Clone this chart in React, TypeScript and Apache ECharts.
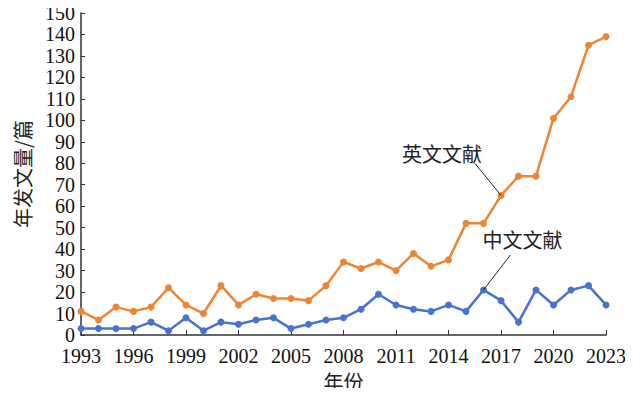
import React, { useEffect, useRef } from "react";
import * as echarts from "echarts";

const years: string[] = [
  "1993","1994","1995","1996","1997","1998","1999","2000","2001","2002",
  "2003","2004","2005","2006","2007","2008","2009","2010","2011","2012",
  "2013","2014","2015","2016","2017","2018","2019","2020","2021","2022","2023",
];
const englishCounts: number[] = [
  11, 7, 13, 11, 13, 22, 14, 10, 23, 14,
  19, 17, 17, 16, 23, 34, 31, 34, 30, 38,
  32, 35, 52, 52, 65, 74, 74, 101, 111, 135, 139,
];
const chineseCounts: number[] = [
  3, 3, 3, 3, 6, 2, 8, 2, 6, 5,
  7, 8, 3, 5, 7, 8, 12, 19, 14, 12,
  11, 14, 11, 21, 16, 6, 21, 14, 21, 23, 14,
];
const englishLabel = "英文文献";
const chineseLabel = "中文文献";
const englishLabelYear = "2017";
const chineseLabelYear = "2016";

const serif = "'Liberation Serif', 'Times New Roman', serif";
const cjk = "'Noto Sans CJK SC', sans-serif";

export default function App() {
  const ref = useRef<HTMLDivElement>(null);
  useEffect(() => {
    if (!ref.current) return;
    const chart = echarts.init(ref.current, null, { renderer: "svg" });
    chart.setOption({
      animation: false,
      backgroundColor: "#ffffff",
      grid: { left: 81, right: 27, top: 13, bottom: 59 },
      xAxis: {
        type: "category",
        data: years,
        boundaryGap: false,
        name: "年份",
        nameLocation: "middle",
        nameGap: 36,
        nameTextStyle: { fontFamily: cjk, fontSize: 20, color: "#222" },
        axisLine: { lineStyle: { color: "#333", width: 1.5 } },
        axisTick: { inside: true, length: 5, interval: 2, lineStyle: { color: "#333" } },
        axisLabel: { interval: 2, fontFamily: serif, fontSize: 20, color: "#111", margin: 11 },
        splitLine: { show: false },
      },
      yAxis: {
        type: "value",
        min: 0,
        max: 150,
        interval: 10,
        name: "年发文量/篇",
        nameLocation: "middle",
        nameGap: 49,
        nameTextStyle: { fontFamily: cjk, fontSize: 20, color: "#222" },
        axisLine: { show: true, lineStyle: { color: "#333", width: 1.5 } },
        axisTick: { show: true, inside: true, length: 4, lineStyle: { color: "#333" } },
        axisLabel: { fontFamily: serif, fontSize: 20, color: "#111", margin: 6 },
        splitLine: { show: false },
      },
      series: [
        {
          name: englishLabel,
          type: "line",
          data: englishCounts,
          symbol: "circle",
          symbolSize: 7,
          lineStyle: { color: "#EF8533", width: 2.5 },
          itemStyle: { color: "#EF8533" },
        },
        {
          name: chineseLabel,
          type: "line",
          data: chineseCounts,
          symbol: "circle",
          symbolSize: 7,
          lineStyle: { color: "#4674D0", width: 2.5 },
          itemStyle: { color: "#4674D0" },
        },
      ],
    });

    const ei = years.indexOf(englishLabelYear);
    const ci = years.indexOf(chineseLabelYear);
    const ep = chart.convertToPixel({ seriesIndex: 0 }, [ei, englishCounts[ei]]) as number[];
    const cp = chart.convertToPixel({ seriesIndex: 1 }, [ci, chineseCounts[ci]]) as number[];
    chart.setOption({
      graphic: [
        {
          type: "line",
          shape: { x1: ep[0], y1: ep[1], x2: ep[0] - 26, y2: ep[1] - 32 },
          style: { stroke: "#222", lineWidth: 1 },
          z: 10,
        },
        {
          type: "text",
          x: ep[0] - 19,
          y: ep[1] - 42,
          style: {
            text: englishLabel,
            fontFamily: cjk,
            fontSize: 20,
            fill: "#222",
            align: "right",
            verticalAlign: "middle",
          },
          z: 10,
        },
        {
          type: "line",
          shape: { x1: cp[0], y1: cp[1], x2: cp[0] + 27, y2: cp[1] - 35 },
          style: { stroke: "#222", lineWidth: 1 },
          z: 10,
        },
        {
          type: "text",
          x: cp[0] - 1,
          y: cp[1] - 50,
          style: {
            text: chineseLabel,
            fontFamily: cjk,
            fontSize: 20,
            fill: "#222",
            align: "left",
            verticalAlign: "middle",
          },
          z: 10,
        },
      ],
    });
    return () => chart.dispose();
  }, []);
  return <div ref={ref} style={{ width: 633, height: 396, margin: -8 }} />;
}
